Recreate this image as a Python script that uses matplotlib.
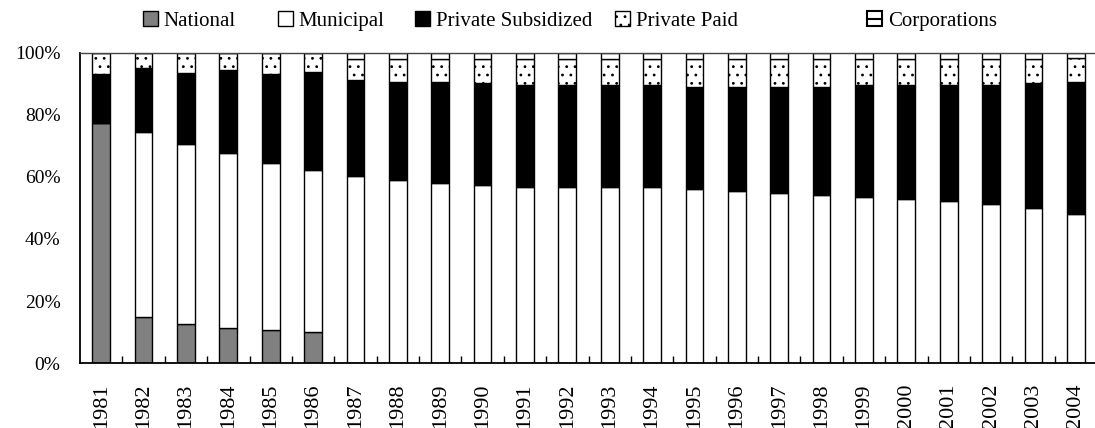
import matplotlib
matplotlib.use("Agg")
import matplotlib.pyplot as plt
from matplotlib.patches import Patch
from matplotlib.lines import Line2D
from matplotlib.legend_handler import HandlerTuple
import numpy as np

years = [str(y) for y in range(1981, 2005)]
national = [77.5, 14.9, 12.5, 11.3, 10.5, 10.0] + [0.0] * 18
municipal = [0.0, 59.6, 58.2, 56.4, 54.1, 52.3, 60.4, 59.1, 58.0, 57.3, 56.7, 56.8,
             56.8, 56.8, 56.1, 55.5, 54.8, 54.3, 53.6, 52.9, 52.4, 51.2, 50.0, 48.2]
private_subsidized = [15.6, 20.8, 22.7, 26.9, 28.7, 31.6, 31.0, 31.6, 32.7, 32.9, 33.0, 32.9,
                      32.9, 32.9, 33.0, 33.5, 34.2, 34.8, 36.1, 36.8, 37.3, 38.5, 40.3, 42.5]
private_paid = [6.9, 4.7, 6.6, 5.4, 6.7, 6.1, 6.8, 7.3, 7.3, 8.0, 8.5, 8.5,
                8.5, 8.5, 9.1, 9.2, 9.2, 9.1, 8.5, 8.5, 8.5, 8.5, 7.9, 7.7]
corporations = [0.0] * 6 + [1.8, 2.0, 2.0, 1.8, 1.8, 1.8, 1.8, 1.8, 1.8, 1.8, 1.8, 1.8,
                            1.8, 1.8, 1.8, 1.8, 1.8, 1.6]
series_names = ["National", "Municipal", "Private Subsidized", "Private Paid", "Corporations"]

plt.rcParams['font.family'] = ['Liberation Serif', 'DejaVu Serif']
plt.rcParams['font.size'] = 14
plt.rcParams['hatch.color'] = 'black'
plt.rcParams['hatch.linewidth'] = 0.8

fig = plt.figure(figsize=(10.95, 4.28), dpi=100)
ax = fig.add_axes([80 / 1095, 1 - 363 / 428, (1097 - 80) / 1095, (363 - 53) / 428])

x = np.arange(len(years))
w = 0.42
series = [national, municipal, private_subsidized, private_paid, corporations]
styles = [
    dict(color='#808080', hatch=None),
    dict(color='white', hatch=None),
    dict(color='black', hatch=None),
    dict(color='white', hatch='..'),
    dict(color='white', hatch=None),
]
bottom = np.zeros(len(years))
for name, vals, st in zip(series_names, series, styles):
    vals = np.array(vals, dtype=float)
    ax.bar(x, vals, w, bottom=bottom, color=st['color'], edgecolor='black',
           linewidth=1.0, hatch=st['hatch'], label=name)
    bottom += vals

ax.set_xlim(-0.5, len(years) - 0.5)
ax.set_ylim(0, 100)
ax.set_yticks([0, 20, 40, 60, 80, 100])
ax.set_yticklabels([f"{v}%" for v in [0, 20, 40, 60, 80, 100]], fontsize=14)
ax.tick_params(axis='y', length=0, pad=14)
ax.set_xticks(x)
ax.set_xticklabels(years, rotation=90, fontsize=16)
ax.tick_params(axis='x', which='major', length=0, pad=15)
ax.set_xticks(np.arange(0.5, len(years) - 0.5, 1), minor=True)
ax.tick_params(axis='x', which='minor', direction='in', length=5, width=1)
for s in ['left', 'bottom']:
    ax.spines[s].set_linewidth(1.3)
ax.spines['top'].set_linewidth(1.0)
ax.spines['top'].set_color('#444444')
ax.spines['right'].set_visible(False)

legend_handles = [
    Patch(facecolor='#808080', edgecolor='black', linewidth=1.0),
    Patch(facecolor='white', edgecolor='black', linewidth=1.0),
    Patch(facecolor='black', edgecolor='black', linewidth=1.0),
    Patch(facecolor='white', edgecolor='black', linewidth=1.0, hatch='..'),
    (Patch(facecolor='white', edgecolor='black', linewidth=1.5),
     Line2D([], [], color='black', linewidth=1.5)),
]
legend_x = [143, 278, 415, 615, 867]
for h, name, lx in zip(legend_handles, series_names, legend_x):
    fig.legend(handles=[h], labels=[name], loc='center left',
               bbox_to_anchor=(lx / 1095, 1 - 21 / 428), frameon=False,
               handlelength=0.7, handleheight=0.7, handletextpad=0.3,
               borderpad=0, borderaxespad=0, fontsize=15,
               handler_map={tuple: HandlerTuple(ndivide=1, pad=0)})

fig.savefig("out.png", dpi=100)
